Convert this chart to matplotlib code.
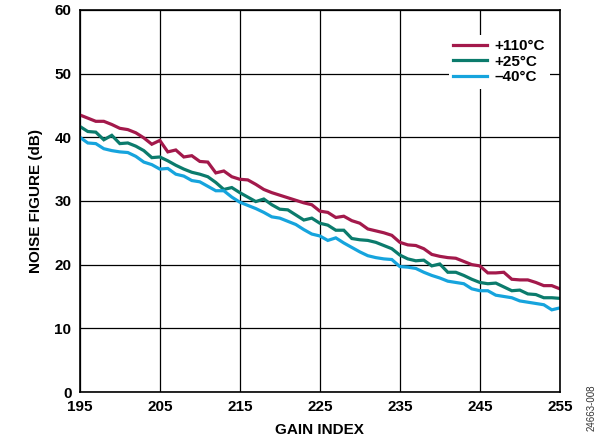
import numpy as np
import matplotlib
matplotlib.use("Agg")
import matplotlib.pyplot as plt

# gain index sweep, one point per index
gain_index = np.arange(195, 256)

nf_110c = [43.5, 43.0, 42.5, 42.5, 42.0, 41.4, 41.2, 40.7, 39.9, 38.9,
           39.5, 37.7, 38.0, 36.9, 37.1, 36.2, 36.1, 34.4, 34.7, 33.8,
           33.4, 33.3, 32.6, 31.8, 31.3, 30.9, 30.5, 30.1, 29.7, 29.4,
           28.4, 28.2, 27.4, 27.6, 26.9, 26.5, 25.6, 25.3, 25.0, 24.6,
           23.5, 23.1, 23.0, 22.5, 21.6, 21.3, 21.1, 21.0, 20.5, 20.0,
           19.8, 18.7, 18.7, 18.8, 17.7, 17.6, 17.6, 17.2, 16.7, 16.7,
           16.2]
nf_25c = [41.7, 40.9, 40.8, 39.6, 40.3, 39.0, 39.1, 38.6, 37.9, 36.8,
          36.9, 36.3, 35.6, 35.0, 34.5, 34.2, 33.8, 32.9, 31.8, 32.1,
          31.3, 30.6, 29.9, 30.3, 29.4, 28.7, 28.6, 27.8, 27.0, 27.3,
          26.5, 26.2, 25.4, 25.4, 24.1, 23.9, 23.8, 23.5, 23.0, 22.5,
          21.5, 20.9, 20.6, 20.7, 19.8, 20.1, 18.8, 18.8, 18.3, 17.7,
          17.2, 17.0, 17.1, 16.5, 15.9, 16.0, 15.4, 15.3, 14.8, 14.8,
          14.7]
nf_m40c = [40.0, 39.1, 39.0, 38.2, 37.9, 37.7, 37.6, 37.0, 36.1, 35.7,
           35.0, 35.1, 34.2, 33.9, 33.2, 33.0, 32.3, 31.6, 31.6, 30.6,
           29.8, 29.3, 28.8, 28.2, 27.5, 27.3, 26.8, 26.3, 25.5, 24.8,
           24.5, 23.8, 24.2, 23.4, 22.7, 22.0, 21.4, 21.1, 20.9, 20.8,
           19.7, 19.6, 19.4, 18.8, 18.3, 17.9, 17.4, 17.2, 17.0, 16.2,
           15.9, 15.9, 15.2, 15.0, 14.8, 14.3, 14.1, 13.9, 13.7, 12.9,
           13.2]

labels = ["+110°C", "+25°C", "\u201340°C"]
colors = ["#A3194B", "#0B7B6C", "#16A4DD"]

plt.rcParams["font.family"] = ["Liberation Sans", "DejaVu Sans"]

fig = plt.figure(figsize=(6.0, 4.48), dpi=100)
ax = fig.add_axes([0.133, 0.125, 0.8, 0.853])

for series, lab, col in zip([nf_110c, nf_25c, nf_m40c], labels, colors):
    ax.plot(gain_index, series, color=col, lw=2.3, label=lab,
            solid_joinstyle="miter")

ax.set_xlim(195, 255)
ax.set_ylim(0, 60)
ax.set_xticks(np.arange(195, 256, 10))
ax.set_yticks(np.arange(0, 61, 10))
ax.grid(True, color="black", lw=0.9)
ax.tick_params(length=0, labelsize=11, pad=6)
for lbl in ax.get_xticklabels() + ax.get_yticklabels():
    lbl.set_fontweight("bold")
for sp in ax.spines.values():
    sp.set_linewidth(1.2)

ax.set_xlabel("GAIN INDEX", fontsize=11, fontweight="bold", labelpad=6)
ax.set_ylabel("NOISE FIGURE (dB)", fontsize=11, fontweight="bold", labelpad=8)

leg = ax.legend(loc="upper right", bbox_to_anchor=(0.995, 0.955), frameon=True,
                fancybox=False, edgecolor="none", framealpha=1.0,
                handlelength=2.2, handletextpad=0.5, labelspacing=0.1,
                borderpad=0.3, prop={"weight": "bold", "size": 11})

fig.text(0.986, 0.09, "24663-008", rotation=90, fontsize=7,
         color="#333333", ha="center", va="center")

fig.savefig("out.png", dpi=100)
